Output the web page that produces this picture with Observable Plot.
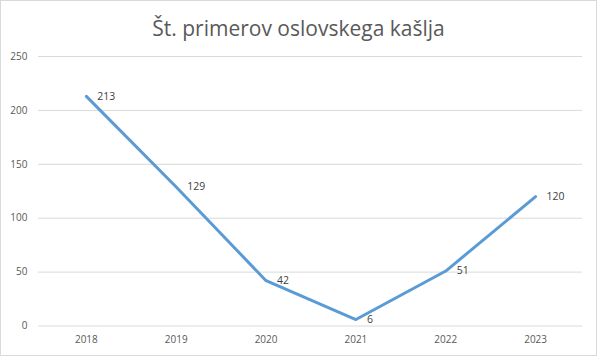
<!DOCTYPE html>
<html>
<head>
<meta charset="utf-8">
<script src="https://cdn.jsdelivr.net/npm/d3@7"></script>
<script src="https://cdn.jsdelivr.net/npm/@observablehq/plot@0.6"></script>
<style>
  html, body { margin: 0; padding: 0; background: #fff; }
  #wrap { width: 597px; height: 356px; box-sizing: border-box; border: 1px solid #d9d9d9; position: relative; overflow: hidden; }
  #title { position: absolute; left: 0; top: 0; width: 100%; height: 47px; text-align: center;
           font-family: "Open Sans", sans-serif; font-size: 21px; color: #595959; line-height: 54px; }
  #chart { position: absolute; left: -1px; top: 47px; }
</style>
</head>
<body>
<div id="wrap">
  <div id="title">Št. primerov oslovskega kašlja</div>
  <div id="chart"></div>
</div>
<script>
const years = ["2018", "2019", "2020", "2021", "2022", "2023"];
const cases = [213, 129, 42, 6, 51, 120];
const yTicks = [0, 50, 100, 150, 200, 250];

const data = years.map((y, i) => ({year: y, value: cases[i]}));

const plot = Plot.plot({
  width: 597,
  height: 308,
  marginTop: 8,
  marginBottom: 30,
  marginLeft: 38,
  marginRight: 14,
  style: {fontFamily: "Open Sans, sans-serif", fontSize: "10px", color: "#595959", background: "transparent"},
  x: {type: "point", domain: years, padding: 0.5, label: null},
  y: {domain: [0, 250], label: null},
  marks: [
    Plot.ruleY(yTicks, {stroke: "#d9d9d9", strokeWidth: 1}),
    Plot.axisY(yTicks, {tickSize: 0, tickPadding: 11, label: null, fill: "#595959"}),
    Plot.axisX({tickSize: 0, tickPadding: 10, label: null, fill: "#595959"}),
    Plot.line(data, {x: "year", y: "value", stroke: "#5b9bd5", strokeWidth: 3, strokeLinejoin: "round", strokeLinecap: "round"}),
    Plot.text(data, {x: "year", y: "value", text: d => String(d.value), textAnchor: "start", dx: 11, fill: "#404040", fontSize: 10.5})
  ]
});
document.getElementById("chart").appendChild(plot);
</script>
</body>
</html>
